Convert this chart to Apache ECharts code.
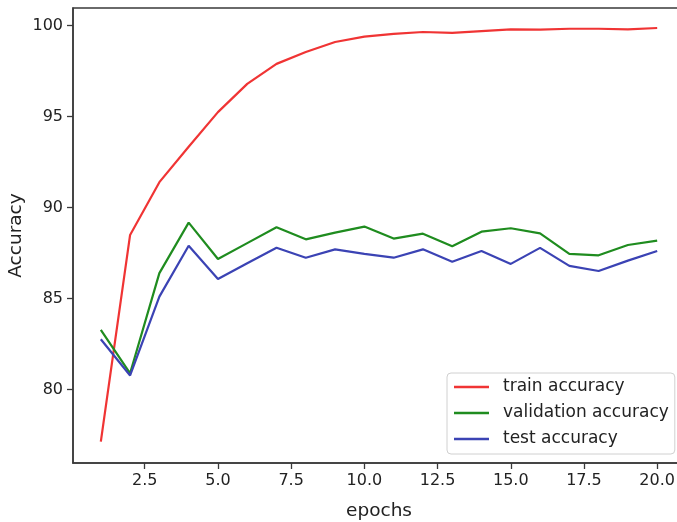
<!DOCTYPE html>
<html>
<head>
<meta charset="utf-8">
<script src="https://cdn.jsdelivr.net/npm/echarts@6/dist/echarts.min.js"></script>
<style>
html,body{margin:0;padding:0;background:#fff;}
#chart{width:677px;height:522px;}
</style>
</head>
<body>
<div id="chart"></div>
<script>
const epochs = [1,2,3,4,5,6,7,8,9,10,11,12,13,14,15,16,17,18,19,20];
const trainAcc = [77.14,88.5,91.4,93.35,95.25,96.8,97.9,98.55,99.1,99.4,99.55,99.65,99.6,99.7,99.8,99.78,99.83,99.83,99.8,99.87];
const valAcc = [83.28,80.9,86.4,89.18,87.18,88.05,88.92,88.26,88.63,88.96,88.3,88.57,87.88,88.68,88.87,88.59,87.46,87.38,87.95,88.19];
const testAcc = [82.77,80.78,85.11,87.91,86.08,86.95,87.8,87.25,87.71,87.46,87.25,87.71,87.03,87.62,86.91,87.79,86.8,86.52,87.09,87.62];
const seriesNames = ['train accuracy','validation accuracy','test accuracy'];
const xTicks = [2.5,5,7.5,10,12.5,15,17.5,20];
const yTicks = [80,85,90,95,100];

const pair = arr => epochs.map((e,i)=>[e,arr[i]]);
const font = 'DejaVu Sans';
const colors = ['#f03434','#1f8c1f','#3b43b4'];
const chart = echarts.init(document.getElementById('chart'), null, {renderer:'canvas'});
chart.setOption({
  animation:false,
  backgroundColor:'#fff',
  grid:{left:73, top:8, width:612, height:455, show:true, borderColor:'#3a3a3a', borderWidth:1.5, containLabel:false, outerBoundsMode:'none'},
  xAxis:{
    type:'value', min:0.05, max:20.95,
    name:'epochs', nameLocation:'middle', nameGap:39, nameMoveOverlap:false,
    nameTextStyle:{fontFamily:font, fontSize:18.5, color:'#222'},
    axisLine:{show:true, lineStyle:{color:'#3a3a3a', width:1.5}},
    axisTick:{show:true, customValues:xTicks, length:6, inside:false, lineStyle:{color:'#3a3a3a', width:1.3}},
    axisLabel:{customValues:xTicks, margin:10, fontFamily:font, fontSize:16, color:'#222', formatter:v=>Number(v).toFixed(1)},
    splitLine:{show:false}
  },
  yAxis:{
    type:'value', min:75.97, max:100.97,
    name:'Accuracy', nameLocation:'middle', nameGap:47, nameRotate:90, nameMoveOverlap:false,
    nameTextStyle:{fontFamily:font, fontSize:18.5, color:'#222'},
    axisLine:{show:true, lineStyle:{color:'#3a3a3a', width:1.5}},
    axisTick:{show:true, customValues:yTicks, length:6, lineStyle:{color:'#3a3a3a', width:1.3}},
    axisLabel:{customValues:yTicks, margin:10, fontFamily:font, fontSize:16, color:'#222'},
    splitLine:{show:false}
  },
  legend:{
    orient:'vertical', left:447, top:373,
    backgroundColor:'#fff', borderColor:'#d0d0d0', borderWidth:1, borderRadius:4,
    padding:[5,6,6,7], itemGap:8, itemWidth:35, itemHeight:2.5, icon:'rect',
    textStyle:{fontFamily:font, fontSize:17, color:'#222', lineHeight:18, padding:[0,0,0,9]},
    data:seriesNames
  },
  series:[
    {name:seriesNames[0], type:'line', data:pair(trainAcc), symbol:'none', lineStyle:{width:2.2, color:colors[0]}, itemStyle:{color:colors[0]}},
    {name:seriesNames[1], type:'line', data:pair(valAcc), symbol:'none', lineStyle:{width:2.2, color:colors[1]}, itemStyle:{color:colors[1]}},
    {name:seriesNames[2], type:'line', data:pair(testAcc), symbol:'none', lineStyle:{width:2.2, color:colors[2]}, itemStyle:{color:colors[2]}}
  ]
});
</script>
</body>
</html>
